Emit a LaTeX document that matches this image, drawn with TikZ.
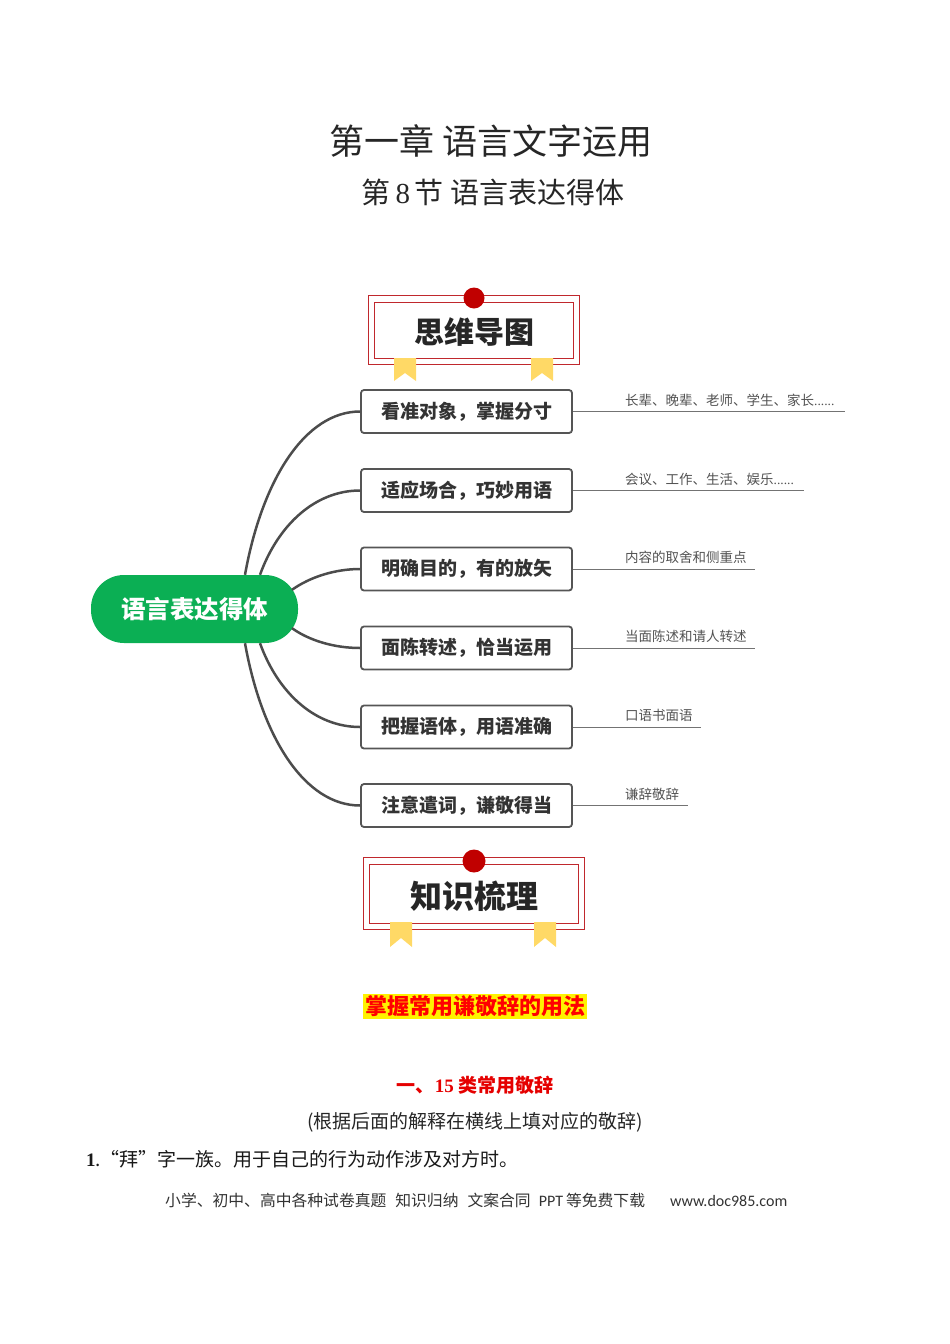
\documentclass[tikz,border=0pt]{standalone}
\usepackage{fontspec}
\setmainfont{Noto Sans CJK SC}
\newfontfamily\serifnum{Liberation Serif}
\newfontfamily\sansnum{Carlito}
\definecolor{rootgreen}{HTML}{0BAF54}
\definecolor{boxgray}{HTML}{555555}
\definecolor{bannerred}{HTML}{C0282D}
\definecolor{dotred}{HTML}{C00000}
\definecolor{ribbon}{HTML}{FFD966}
\newcommand{\fsz}[1]{\fontsize{#1}{#1}\selectfont}
\newcommand{\leafdots}{{\serifnum ......}}
\tikzset{
    branch/.style={draw=boxgray!90!black, line width=2.5pt},
    mainbox/.style={draw=boxgray, line width=1.8pt, fill=white, rounded corners=3pt,
        minimum width=211pt, minimum height=43pt, inner sep=0pt,
        font=\fsz{19}\bfseries, text=black!80},
    leafline/.style={draw=black!55, line width=0.9pt},
    leaftext/.style={anchor=west, inner sep=0pt, font=\fsz{13.5}, text=black!68},
    bannerline/.style={draw=bannerred, line width=1pt},
    titletext/.style={inner sep=0pt, text=black!85}
}
\begin{document}
\begin{tikzpicture}[x=1pt,y=-1pt]
    \useasboundingbox (0,0) rectangle (950,1344);

    % Titres
    \node[titletext, font=\fsz{35}] (title) at (491,141) {第一章 语言文字运用};
    \node[titletext, font=\fsz{29}] (subtitle) at (493,192) {第{\serifnum\,8\,}节 语言表达得体};

    % Premier bandeau
    \draw[bannerline] (368,295) rectangle (579,364);
    \draw[bannerline] (374.5,302) rectangle (573,358);
    \foreach \x in {394,531} {
        \fill[ribbon] (\x,358) -- (\x+22,358) -- (\x+22,381) -- (\x+11,373) -- (\x,381) -- cycle;
    }
    \fill[dotred] (474,298) circle (10.5);
    \node[titletext, font=\fsz{30}\bfseries] (mapname) at (474,332) {思维导图};

    % Noeud central
    \node[fill=rootgreen, rounded corners=33pt, minimum width=207pt, minimum height=68pt,
        inner sep=0pt, text=white, font=\fsz{24.5}\bfseries] (root) at (194.5,609) {语言表达得体};

    % Branches et feuilles
    \foreach \i/\y/\xend/\main/\leaf in {
        1/411.5/845/看准对象，掌握分寸/长辈、晚辈、老师、学生、家长\leafdots,
        2/490.5/804/适应场合，巧妙用语/会议、工作、生活、娱乐\leafdots,
        3/569/755/明确目的，有的放矢/内容的取舍和侧重点,
        4/648/755/面陈转述，恰当运用/当面陈述和请人转述,
        5/727/701/把握语体，用语准确/口语书面语,
        6/805.5/688/注意遣词，谦敬得当/谦辞敬辞} {
        \node[mainbox] (b\i) at (466.5,\y) {\main};
        \coordinate (e\i) at (\xend,\y);
        \draw[leafline] (b\i.east) -- (e\i);
        \node[leaftext] (t\i) at (625,\y-11.5) {\leaf};
    }

    % Points de depart sur le noeud central
    \coordinate (r1) at ([xshift=50.5pt]root.north);
    \coordinate (r2) at ([xshift=65.5pt]root.north);
    \coordinate (r3) at ([xshift=97.5pt,yshift=-15pt]root.north);
    \coordinate (r4) at ([xshift=97.5pt,yshift=15pt]root.south);
    \coordinate (r5) at ([xshift=65.5pt]root.south);
    \coordinate (r6) at ([xshift=50.5pt]root.south);

    \draw[branch] (r1) .. controls (262,480) and (305,411.5) .. (b1.west);
    \draw[branch] (r2) .. controls (278,525) and (315,490.5) .. (b2.west);
    \draw[branch] (r3) .. controls (310,577) and (335,569) .. (b3.west);
    \draw[branch] (r4) .. controls (310,641) and (335,648) .. (b4.west);
    \draw[branch] (r5) .. controls (278,693) and (315,727) .. (b5.west);
    \draw[branch] (r6) .. controls (262,738) and (305,805.5) .. (b6.west);

    % Second bandeau
    \draw[bannerline] (363,857) rectangle (584,929);
    \draw[bannerline] (369.5,864) rectangle (578,923);
    \foreach \x in {390,534} {
        \fill[ribbon] (\x,922) -- (\x+22,922) -- (\x+22,947) -- (\x+11,938) -- (\x,947) -- cycle;
    }
    \fill[dotred] (474,861) circle (11.5);
    \node[titletext, font=\fsz{32}\bfseries] (sumname) at (474,896) {知识梳理};

    % Texte du bas
    \node[fill=yellow, text=red, font=\fsz{22}\bfseries, minimum width=224pt, minimum height=25pt,
        inner sep=0pt] (focus) at (475,1006.5) {掌握常用谦敬辞的用法};
    \node[inner sep=0pt, text=red!90!black, font=\fsz{19}\bfseries] (head) at (475,1085)
        {一、{\serifnum 15} 类常用敬辞};
    \node[inner sep=0pt, text=black!85, font=\fsz{19}] (hint) at (475,1122)
        {(根据后面的解释在横线上填对应的敬辞)};
    \node[anchor=west, inner sep=0pt, text=black!90, font=\fsz{19}] (item) at (86,1159)
        {{\serifnum\bfseries 1}.“拜”字一族。用于自己的行为动作涉及对方时。};
    \node[anchor=west, inner sep=0pt, text=black!80, font=\fsz{15.8}] (foot) at (165,1200.5)
        {小学、初中、高中各种试卷真题\hspace{9pt}知识归纳\hspace{9pt}文案合同\hspace{8pt}{\sansnum\fsz{16}PPT}\hspace{3pt}等免费下载\hspace{25pt}{\sansnum\fsz{16}www.doc985.com}};
\end{tikzpicture}
\end{document}
